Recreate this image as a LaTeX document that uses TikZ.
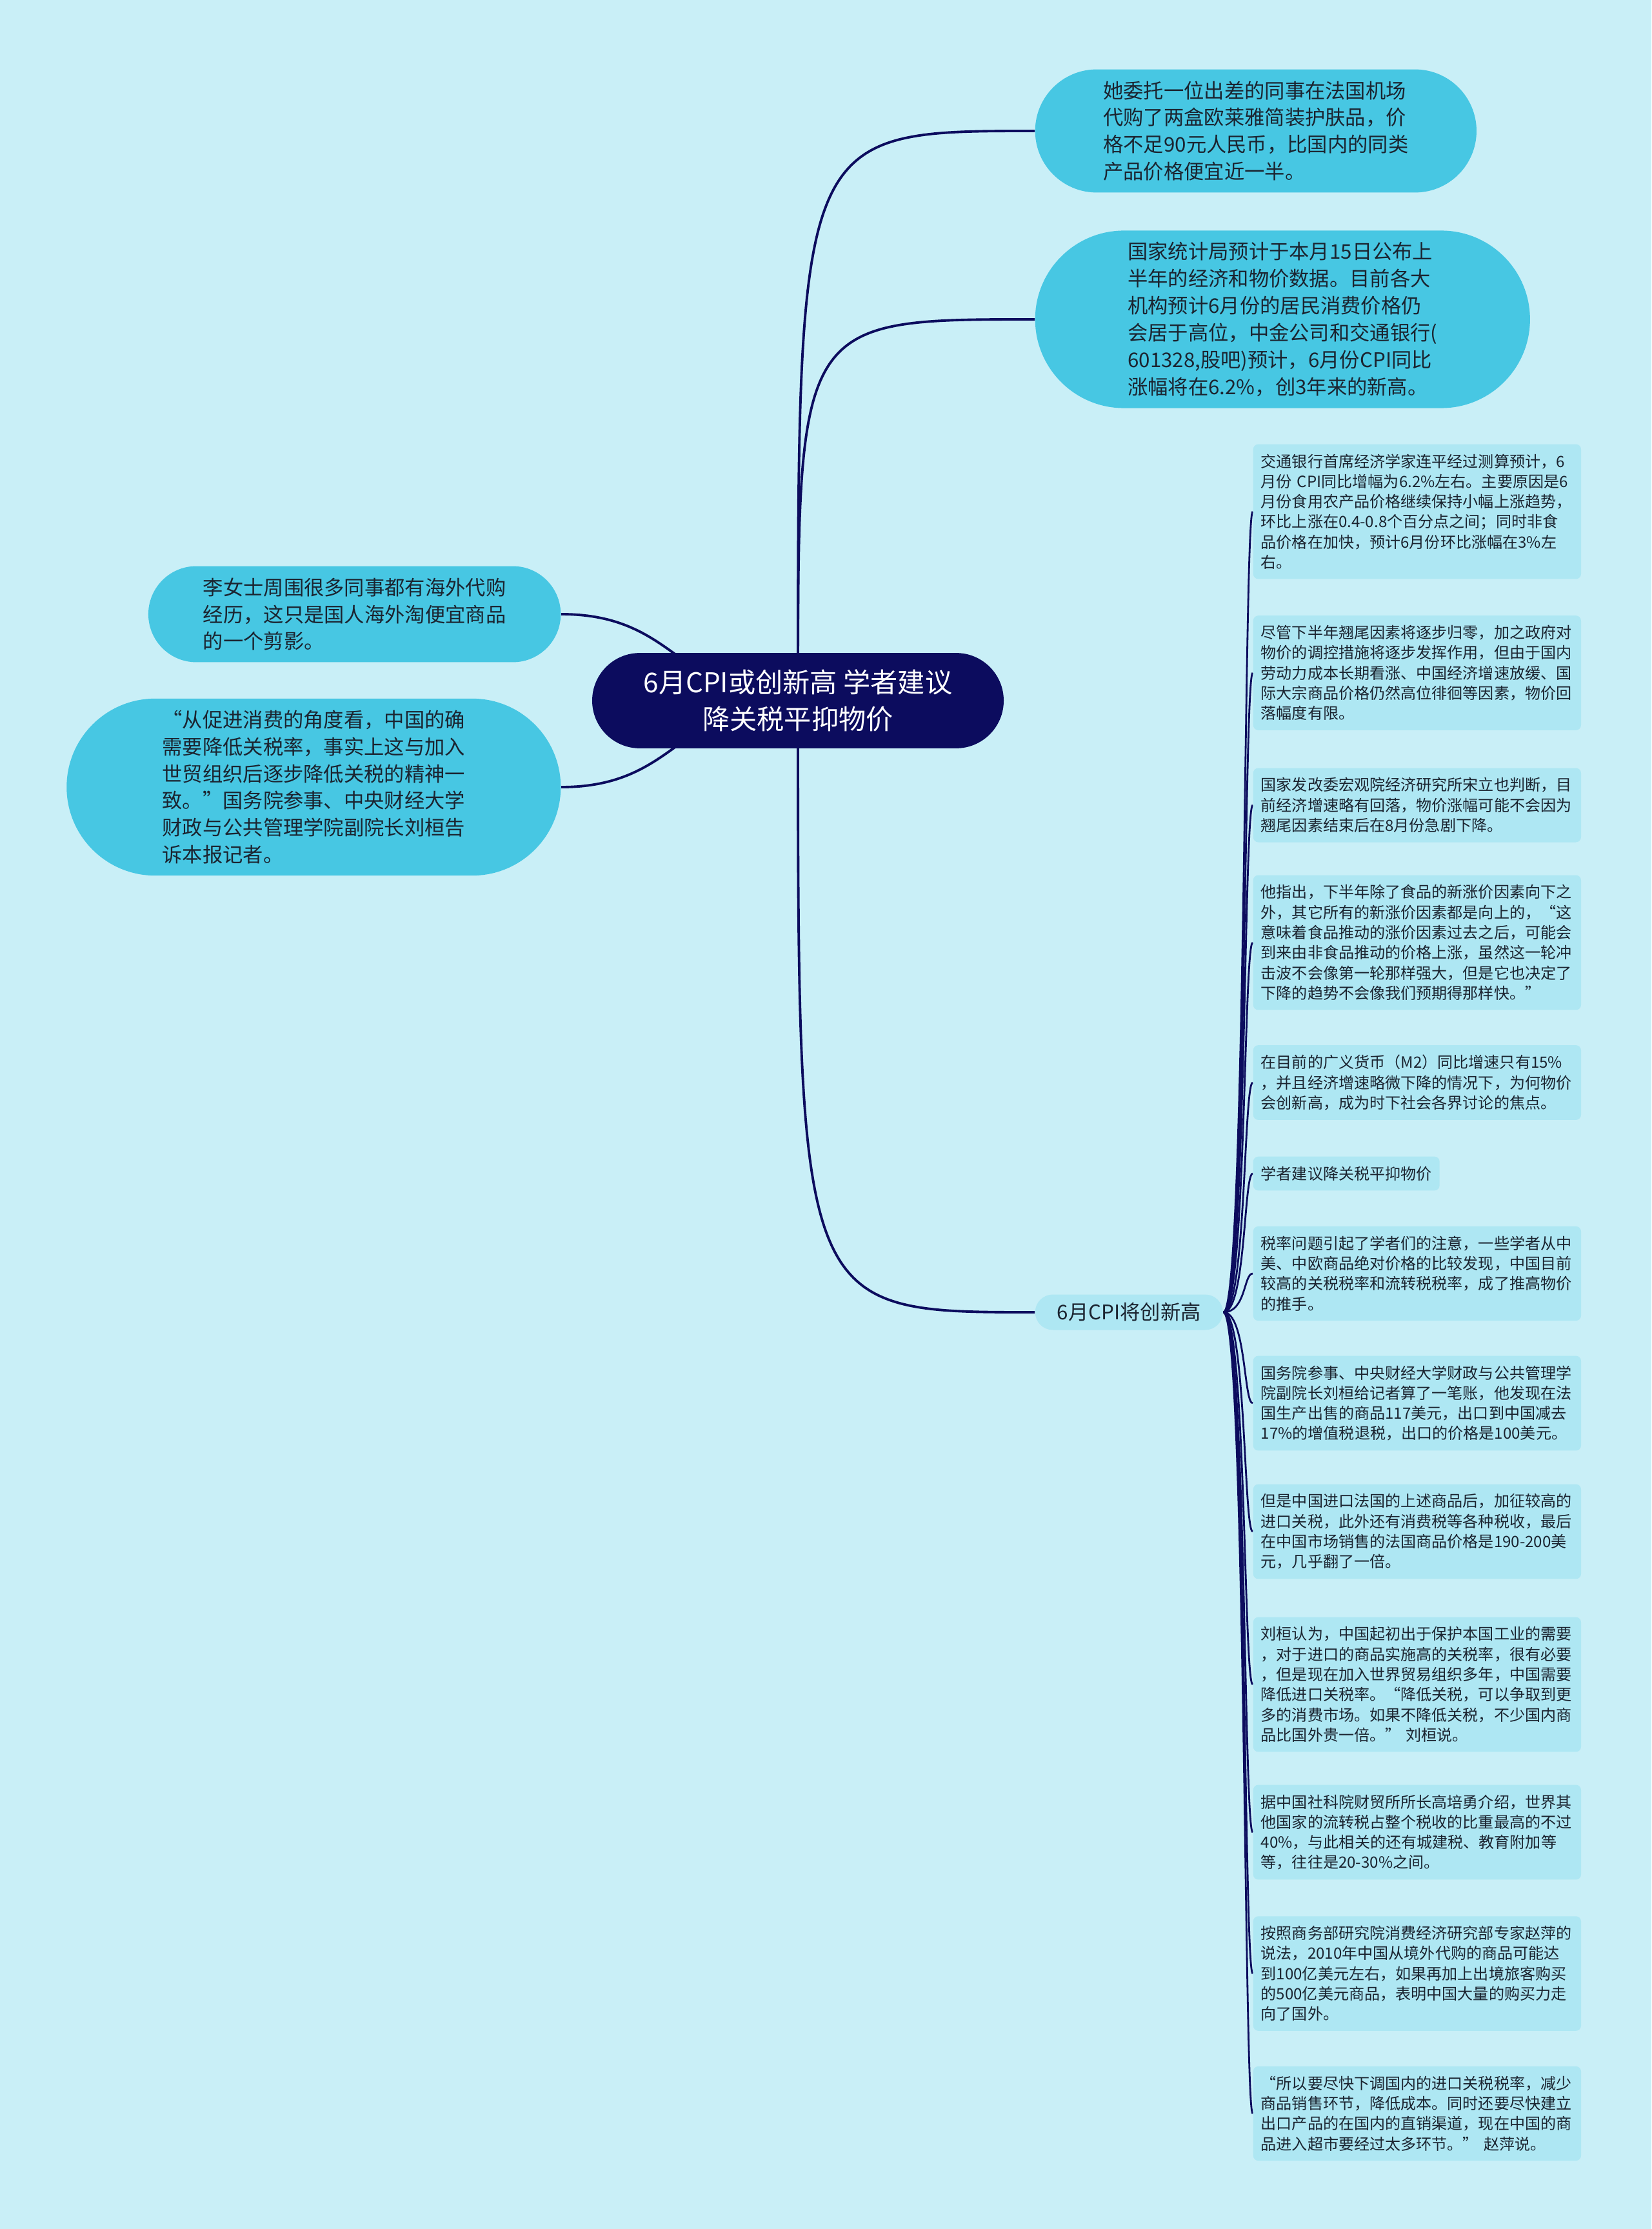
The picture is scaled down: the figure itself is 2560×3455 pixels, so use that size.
\documentclass[tikz,border=0pt]{standalone}
\usepackage{fontspec}
\setmainfont{Noto Sans CJK SC}
\usetikzlibrary{shapes.misc,backgrounds,calc}
\definecolor{bgcyan}{HTML}{C9EFF7}
\definecolor{topiccyan}{HTML}{47C7E3}
\definecolor{leafcyan}{HTML}{AEE7F3}
\definecolor{rootblue}{HTML}{0C0C5E}
\definecolor{inkgray}{HTML}{1B2430}
\begin{document}
\begin{tikzpicture}[x=0.01cm, y=-0.01cm,
  root/.style={rounded rectangle, fill=rootblue, text=white, align=center,
    inner xsep=0.62cm, inner ysep=0.26cm, font=\fontsize{12pt}{16pt}\selectfont},
  topic/.style={rounded rectangle, fill=topiccyan, text=inkgray, align=left,
    inner xsep=0.66cm, inner ysep=0.18cm, font=\fontsize{8.9pt}{11.9pt}\selectfont},
  branch/.style={rounded rectangle, fill=leafcyan, text=inkgray,
    inner xsep=0.30cm, inner ysep=0.13cm, font=\fontsize{8.9pt}{11.9pt}\selectfont},
  leaf/.style={rectangle, rounded corners=0.08cm, fill=leafcyan, text=inkgray,
    align=left, text width=4.84cm, inner xsep=0.12cm, inner ysep=0.15cm,
    font=\fontsize{6.85pt}{8.9pt}\selectfont, anchor=west},
  link/.style={draw=rootblue, line width=1.1pt},
  twig/.style={draw=rootblue, line width=0.8pt}]
  \useasboundingbox (0,0) rectangle (2560,3455);

  % Centro y ramas principales
  \node[root] (root) at (1237,1086) {6月CPI或创新高 学者建议\\降关税平抑物价};
  \node[topic, anchor=west] (t1) at (1604,203) {她委托一位出差的同事在法国机场\\代购了两盒欧莱雅简装护肤品，价\\格不足90元人民币，比国内的同类\\产品价格便宜近一半。};
  \node[topic, anchor=west, inner xsep=0.74cm] (t2) at (1604,495) {国家统计局预计于本月15日公布上\\半年的经济和物价数据。目前各大\\机构预计6月份的居民消费价格仍\\会居于高位，中金公司和交通银行(\\601328,股吧)预计，6月份CPI同比\\涨幅将在6.2\%，创3年来的新高。};
  \node[topic, anchor=east, inner xsep=0.59cm] (t3) at (870,952) {李女士周围很多同事都有海外代购\\经历，这只是国人海外淘便宜商品\\的一个剪影。};
  \node[topic, anchor=east, inner xsep=0.79cm] (t4) at (870,1220) {“从促进消费的角度看，中国的确\\需要降低关税率，事实上这与加入\\世贸组织后逐步降低关税的精神一\\致。”国务院参事、中央财经大学\\财政与公共管理学院副院长刘桓告\\诉本报记者。};
  \node[branch, anchor=west] (br) at (1604,2034) {6月CPI将创新高};

  % Hojas de la rama inferior
  \node[leaf] (leaf1) at (1942,793) {交通银行首席经济学家连平经过测算预计，6\\月份 CPI同比增幅为6.2\%左右。主要原因是6\\月份食用农产品价格继续保持小幅上涨趋势，\\环比上涨在0.4-0.8个百分点之间；同时非食\\品价格在加快，预计6月份环比涨幅在3\%左\\右。};
  \node[leaf] (leaf2) at (1942,1043) {尽管下半年翘尾因素将逐步归零，加之政府对\\物价的调控措施将逐步发挥作用，但由于国内\\劳动力成本长期看涨、中国经济增速放缓、国\\际大宗商品价格仍然高位徘徊等因素，物价回\\落幅度有限。};
  \node[leaf] (leaf3) at (1942,1248) {国家发改委宏观院经济研究所宋立也判断，目\\前经济增速略有回落，物价涨幅可能不会因为\\翘尾因素结束后在8月份急剧下降。};
  \node[leaf] (leaf4) at (1942,1461) {他指出，下半年除了食品的新涨价因素向下之\\外，其它所有的新涨价因素都是向上的，“这\\意味着食品推动的涨价因素过去之后，可能会\\到来由非食品推动的价格上涨，虽然这一轮冲\\击波不会像第一轮那样强大，但是它也决定了\\下降的趋势不会像我们预期得那样快。”};
  \node[leaf] (leaf5) at (1942,1678) {在目前的广义货币（M2）同比增速只有15\%\\，并且经济增速略微下降的情况下，为何物价\\会创新高，成为时下社会各界讨论的焦点。};
  \node[leaf, text width=] (leaf6) at (1942,1819) {学者建议降关税平抑物价};
  \node[leaf] (leaf7) at (1942,1974) {税率问题引起了学者们的注意，一些学者从中\\美、中欧商品绝对价格的比较发现，中国目前\\较高的关税税率和流转税税率，成了推高物价\\的推手。};
  \node[leaf] (leaf8) at (1942,2175) {国务院参事、中央财经大学财政与公共管理学\\院副院长刘桓给记者算了一笔账，他发现在法\\国生产出售的商品117美元，出口到中国减去\\17\%的增值税退税，出口的价格是100美元。};
  \node[leaf] (leaf9) at (1942,2374) {但是中国进口法国的上述商品后，加征较高的\\进口关税，此外还有消费税等各种税收，最后\\在中国市场销售的法国商品价格是190-200美\\元，几乎翻了一倍。};
  \node[leaf] (leaf10) at (1942,2611) {刘桓认为，中国起初出于保护本国工业的需要\\，对于进口的商品实施高的关税率，很有必要\\，但是现在加入世界贸易组织多年，中国需要\\降低进口关税率。“降低关税，可以争取到更\\多的消费市场。如果不降低关税，不少国内商\\品比国外贵一倍。” 刘桓说。};
  \node[leaf] (leaf11) at (1942,2840) {据中国社科院财贸所所长高培勇介绍，世界其\\他国家的流转税占整个税收的比重最高的不过\\40\%，与此相关的还有城建税、教育附加等\\等，往往是20-30\%之间。};
  \node[leaf] (leaf12) at (1942,3059) {按照商务部研究院消费经济研究部专家赵萍的\\说法，2010年中国从境外代购的商品可能达\\到100亿美元左右，如果再加上出境旅客购买\\的500亿美元商品，表明中国大量的购买力走\\向了国外。};
  \node[leaf] (leaf13) at (1942,3276) {“所以要尽快下调国内的进口关税税率，减少\\商品销售环节，降低成本。同时还要尽快建立\\出口产品的在国内的直销渠道，现在中国的商\\品进入超市要经过太多环节。” 赵萍说。};

  % Fondo y conectores
  \begin{scope}[on background layer]
    \fill[bgcyan] (0,0) rectangle (2560,3455);
    \draw[link] (root.center) .. controls (root.center |- t1.west) .. (t1.west);
    \draw[link] (root.center) .. controls (root.center |- t2.west) .. (t2.west);
    \draw[link] (root.center) .. controls (root.center |- br.west) .. (br.west);
    \foreach \t in {t3,t4} {
      \draw[link] (root.center)
        .. controls ($(root.center)!.5!(root.center -| \t.east)$)
        and ($(\t.east)!.5!(\t.east -| root.center)$) .. (\t.east);
    }
    \foreach \k in {1,...,13} {
      \draw[twig] (br.east) .. controls +(35,0) and +(-14,0) .. (leaf\k.west);
    }
  \end{scope}
\end{tikzpicture}
\end{document}
